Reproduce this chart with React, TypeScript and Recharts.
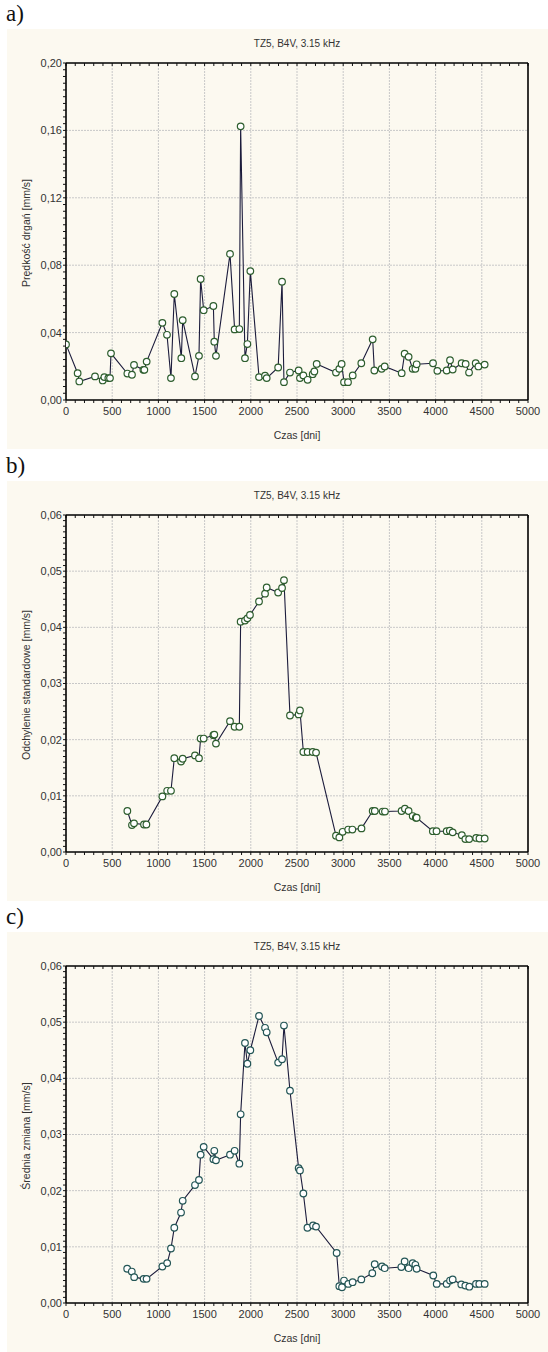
import React from 'react';
import { LineChart, Line, XAxis, YAxis, ReferenceLine } from 'recharts';

// ---------- shared labels / ticks ----------
const TITLE = 'TZ5, B4V, 3.15 kHz';
const X_LABEL = 'Czas [dni]';
const X_MAJOR = [0, 500, 1000, 1500, 2000, 2500, 3000, 3500, 4000, 4500, 5000];
const Y_MAJOR_A = [0, 0.04, 0.08, 0.12, 0.16, 0.2];
const Y_MAJOR_BC = [0, 0.01, 0.02, 0.03, 0.04, 0.05, 0.06];

// ---------- panel a) ----------
const DAYS_A = [0, 126, 144, 314, 397, 415, 458, 476, 487, 664, 714, 736, 837, 848, 873, 1043, 1093, 1136, 1172, 1248, 1263, 1396, 1439, 1457, 1490, 1595, 1605, 1623, 1775, 1825, 1876, 1890, 1937, 1963, 1995, 2089, 2154, 2172, 2296, 2338, 2359, 2424, 2518, 2532, 2569, 2615, 2670, 2688, 2713, 2922, 2958, 2983, 3009, 3052, 3103, 3196, 3319, 3337, 3416, 3449, 3633, 3665, 3708, 3752, 3781, 3795, 3972, 4019, 4120, 4156, 4185, 4282, 4325, 4362, 4434, 4463, 4531];
const VALS_A = [0.033, 0.0159, 0.011, 0.014, 0.0116, 0.0136, 0.013, 0.013, 0.0277, 0.0157, 0.015, 0.0208, 0.0179, 0.0179, 0.0228, 0.0458, 0.0387, 0.013, 0.0629, 0.0248, 0.0474, 0.014, 0.0262, 0.0718, 0.0533, 0.0558, 0.0346, 0.0262, 0.0867, 0.0419, 0.0421, 0.1624, 0.0248, 0.0332, 0.0765, 0.0136, 0.0144, 0.013, 0.0193, 0.0702, 0.0106, 0.0163, 0.0175, 0.013, 0.0146, 0.012, 0.0153, 0.0169, 0.0214, 0.0163, 0.0185, 0.0214, 0.0106, 0.0106, 0.0146, 0.0218, 0.036, 0.0175, 0.0185, 0.0199, 0.0159, 0.0275, 0.0256, 0.0185, 0.0185, 0.0212, 0.0218, 0.0173, 0.0175, 0.0236, 0.0181, 0.0218, 0.0214, 0.0163, 0.0218, 0.0199, 0.021];

// ---------- panel b) ----------
const DAYS_B = [664, 714, 736, 844, 870, 1043, 1095, 1136, 1172, 1245, 1263, 1396, 1439, 1457, 1490, 1595, 1605, 1623, 1775, 1825, 1876, 1890, 1937, 1963, 1991, 2089, 2154, 2172, 2296, 2338, 2359, 2424, 2518, 2532, 2569, 2615, 2670, 2706, 2922, 2958, 2994, 3054, 3099, 3198, 3319, 3342, 3427, 3452, 3632, 3668, 3708, 3752, 3786, 3795, 3970, 4010, 4120, 4154, 4185, 4284, 4322, 4363, 4439, 4475, 4531];
const VALS_B = [0.0073, 0.0048, 0.0051, 0.0049, 0.0049, 0.0099, 0.0109, 0.0109, 0.0167, 0.0161, 0.0166, 0.0172, 0.0167, 0.0202, 0.0202, 0.0208, 0.0209, 0.0193, 0.0233, 0.0223, 0.0223, 0.041, 0.0412, 0.0416, 0.0422, 0.0446, 0.046, 0.0471, 0.0462, 0.047, 0.0484, 0.0243, 0.0245, 0.0252, 0.0178, 0.0178, 0.0178, 0.0177, 0.0029, 0.0026, 0.0036, 0.004, 0.004, 0.0042, 0.0073, 0.0073, 0.0072, 0.0072, 0.0073, 0.0077, 0.0073, 0.0064, 0.0061, 0.0061, 0.0037, 0.0037, 0.0037, 0.0038, 0.0035, 0.003, 0.0023, 0.0023, 0.0025, 0.0024, 0.0024];

// ---------- panel c) ----------
const DAYS_C = [662, 712, 738, 840, 872, 1043, 1095, 1136, 1172, 1245, 1263, 1396, 1439, 1457, 1490, 1595, 1605, 1623, 1775, 1825, 1876, 1890, 1937, 1963, 1995, 2089, 2154, 2172, 2296, 2338, 2359, 2424, 2518, 2532, 2569, 2613, 2674, 2706, 2929, 2958, 2987, 3009, 3055, 3102, 3196, 3315, 3341, 3420, 3449, 3629, 3665, 3708, 3752, 3781, 3795, 3975, 4012, 4120, 4156, 4185, 4278, 4322, 4365, 4437, 4473, 4531];
const VALS_C = [0.0061, 0.0056, 0.0046, 0.0043, 0.0043, 0.0065, 0.0071, 0.0097, 0.0134, 0.0161, 0.0182, 0.021, 0.0219, 0.0264, 0.0278, 0.0256, 0.0271, 0.0254, 0.0264, 0.0271, 0.0248, 0.0336, 0.0463, 0.0426, 0.045, 0.0511, 0.049, 0.0482, 0.0428, 0.0434, 0.0494, 0.0378, 0.024, 0.0236, 0.0195, 0.0134, 0.0138, 0.0136, 0.0089, 0.003, 0.0028, 0.004, 0.0034, 0.0037, 0.0042, 0.0053, 0.0069, 0.0065, 0.0062, 0.0064, 0.0074, 0.0062, 0.0071, 0.0068, 0.0061, 0.0049, 0.0034, 0.0034, 0.004, 0.0042, 0.0033, 0.0031, 0.0029, 0.0034, 0.0034, 0.0034];

const FONT = 'Arial, "Liberation Sans", Helvetica, sans-serif';
const CREAM = '#fcf9f0';
const PANEL_W = 541;
const PANEL_H = 420;

function steps(max: number, step: number): number[] {
  const out: number[] = [];
  const n = Math.round(max / step);
  for (let i = 0; i <= n; i++) out.push(Number((i * step).toFixed(6)));
  return out;
}

const isMultiple = (v: number, step: number) => Math.abs(v / step - Math.round(v / step)) < 1e-6;

type PanelProps = {
  letter: string;
  top: number;
  days: number[];
  vals: number[];
  yMax: number;
  yMajor: number[];
  yMinorStep: number;
  yRightStep: number;
  yLabel: string;
  marker: string;
};

function Panel({ letter, top, days, vals, yMax, yMajor, yMinorStep, yRightStep, yLabel, marker }: PanelProps) {
  const data = days.map((d, i) => ({ x: d, y: vals[i] }));
  const xMinor = steps(5000, 100);
  const yMinor = steps(yMax, yMinorStep);
  const yRight = steps(yMax, yRightStep);
  const majorStep = yMajor[1];
  const tickStyle = { fontSize: 11, fill: '#333', fontFamily: FONT };
  const plotTop = 35;
  const plotH = 337;
  const axisLine = { stroke: '#000', strokeWidth: 1.6 };
  const tickLine = { stroke: '#111', strokeWidth: 1 };
  return (
    <>
      <div style={{ position: 'absolute', left: 6, top: top - 27, fontFamily: '"Liberation Serif", "Times New Roman", serif', fontSize: 23, lineHeight: '24px', color: '#111' }}>{letter}</div>
      <div style={{ position: 'absolute', left: 7, top, width: PANEL_W, height: PANEL_H, background: CREAM }}>
        <div style={{ position: 'absolute', left: 59, width: 462, top: 9, textAlign: 'center', fontFamily: FONT, fontSize: 10, color: '#333' }}>{TITLE}</div>
        <div style={{ position: 'absolute', left: 59, width: 462, top: 400, textAlign: 'center', fontFamily: FONT, fontSize: 10.5, color: '#333' }}>{X_LABEL}</div>
        <div style={{ position: 'absolute', left: 19, top: plotTop + plotH / 2, width: 0, height: 0 }}>
          <div style={{ position: 'absolute', transform: 'translate(-50%, -50%) rotate(-90deg)', whiteSpace: 'nowrap', fontFamily: FONT, fontSize: 10.5, color: '#333' }}>{yLabel}</div>
        </div>
        <LineChart width={PANEL_W} height={PANEL_H} data={data} margin={{ top: plotTop - 1, right: 19, bottom: 19, left: 0 }}>
          {X_MAJOR.slice(1, -1).map((v) => (
            <ReferenceLine key={'gx' + v} x={v} stroke="#c8c8c8" strokeDasharray="2 1" strokeWidth={1} ifOverflow="hidden" />
          ))}
          {yMajor.slice(1, -1).map((v) => (
            <ReferenceLine key={'gy' + v} y={v} stroke="#c8c8c8" strokeDasharray="2 1" strokeWidth={1} ifOverflow="hidden" />
          ))}
          <XAxis dataKey="x" type="number" domain={[0, 5000]} ticks={xMinor} interval={0} allowDataOverflow
            tickFormatter={(v: number) => (isMultiple(v, 500) ? String(v) : '')}
            height={30} tickSize={3} tickMargin={4} tick={tickStyle}
            axisLine={axisLine} tickLine={tickLine} />
          <XAxis xAxisId="top" orientation="top" dataKey="x" type="number" domain={[0, 5000]} ticks={xMinor} interval={0}
            tickFormatter={() => ''} height={1} tickSize={3} mirror
            axisLine={axisLine} tickLine={tickLine} />
          <YAxis type="number" domain={[0, yMax]} ticks={yMinor} interval={0} allowDataOverflow
            tickFormatter={(v: number) => (isMultiple(v, majorStep) ? v.toFixed(2).replace('.', ',') : '')}
            width={59} tickSize={3} tickMargin={1} tick={tickStyle}
            axisLine={axisLine} tickLine={tickLine} />
          <YAxis yAxisId="right" orientation="right" type="number" domain={[0, yMax]} ticks={yRight} interval={0}
            tickFormatter={() => ''} width={1} tickSize={3}
            axisLine={axisLine} tickLine={tickLine} />
          <Line type="linear" dataKey="y" stroke="#1c1c3c" strokeWidth={1.1} isAnimationActive={false}
            dot={{ r: 3.3, fill: '#ffffff', stroke: marker, strokeWidth: 1.2 }} />
        </LineChart>
      </div>
    </>
  );
}

export default function App() {
  return (
    <div style={{ position: 'absolute', left: 0, top: 0, width: 548, height: 1352, background: '#fff', overflow: 'hidden' }}>
      <Panel letter="a)" top={29} days={DAYS_A} vals={VALS_A} yMax={0.2} yMajor={Y_MAJOR_A} yMinorStep={0.004} yRightStep={0.02}
        yLabel="Prędkość drgań [mm/s]" marker="#2e5e2e" />
      <Panel letter="b)" top={481} days={DAYS_B} vals={VALS_B} yMax={0.06} yMajor={Y_MAJOR_BC} yMinorStep={0.001} yRightStep={0.002}
        yLabel="Odchylenie standardowe [mm/s]" marker="#2e5e2e" />
      <Panel letter="c)" top={932} days={DAYS_C} vals={VALS_C} yMax={0.06} yMajor={Y_MAJOR_BC} yMinorStep={0.001} yRightStep={0.002}
        yLabel="Średnia zmiana [mm/s]" marker="#245656" />
    </div>
  );
}
